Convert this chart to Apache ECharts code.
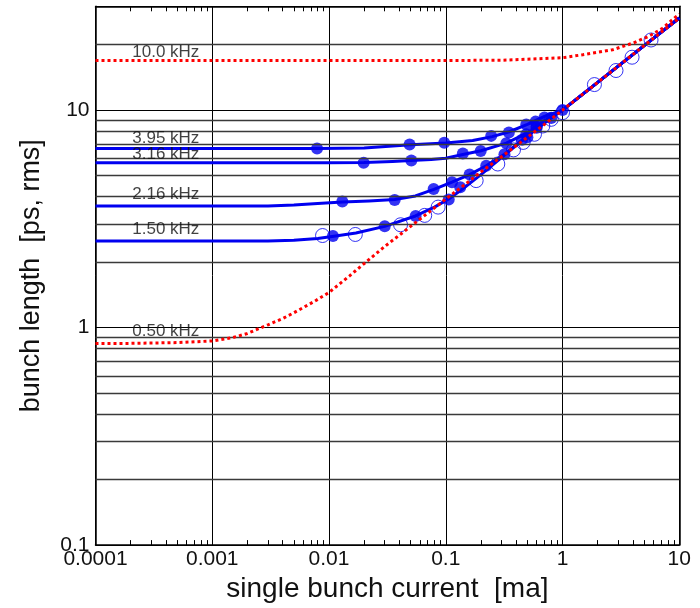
<!DOCTYPE html>
<html>
<head>
<meta charset="utf-8">
<script src="https://cdn.jsdelivr.net/npm/echarts@6/dist/echarts.min.js"></script>
<style>
  html, body { margin: 0; padding: 0; background: #ffffff; }
  #chart { width: 700px; height: 608px; }
</style>
</head>
<body>
<div id="chart"></div>
<script>
// ---- axis ranges / ticks ----
const xMin = 0.0001, xMax = 10;
const yMin = 0.1, yMax = 30;
const xTickLabels = ['0.0001', '0.001', '0.01', '0.1', '1', '10'];
const yTickLabels = ['0.1', '1', '10'];
const yMinorGrid = [0.2, 0.3, 0.4, 0.5, 0.6, 0.7, 0.8, 0.9, 2, 3, 4, 5, 6, 7, 8, 9, 20];

// ---- model curves (red dotted) ----
const curve10kHz = [[0.0001,16.9],[0.001,16.9],[0.01,16.9],[0.1,16.9],[0.3,16.95],[0.6,17.2],[1,17.4],[1.49,17.97],[2.69,18.94],[3.99,20.3],[5.54,21.9],[7.19,23.8],[9.38,26.9],[10,27.6]];
const curve050kHz = [[0.0001,0.845],[0.0002,0.846],[0.0005,0.853],[0.001,0.868],[0.0015,0.9],[0.002,0.94],[0.003,1.03],[0.004,1.1],[0.005,1.17],[0.0075,1.32],[0.01,1.45],[0.015,1.73],[0.02,1.97],[0.03,2.36],[0.05,2.92],[0.07,3.36],[0.1,3.9],[0.15,4.6],[0.2,5.2],[0.3,6.1],[0.5,7.5],[0.7,8.6],[1,10],[2,13.4],[5,19.8],[10,26.5]];

// ---- blue fitted lines ----
const line395 = [[0.0001,6.66],[0.001,6.66],[0.008,6.66],[0.02,6.7],[0.05,6.92],[0.1,7.05],[0.17,7.25],[0.25,7.55],[0.35,7.95],[0.5,8.6],[0.7,9.35],[1,10],[2,13.4],[5,19.8],[10,26.5]];
const line316 = [[0.0001,5.73],[0.001,5.73],[0.01,5.73],[0.02,5.74],[0.035,5.8],[0.05,5.86],[0.075,5.92],[0.1,6.0],[0.14,6.25],[0.2,6.5],[0.33,7.05],[0.5,7.85],[0.7,8.9],[1,10],[2,13.4],[5,19.8],[10,26.5]];
const line216 = [[0.0001,3.62],[0.001,3.62],[0.003,3.62],[0.005,3.66],[0.008,3.72],[0.013,3.78],[0.022,3.82],[0.0365,3.88],[0.055,4.03],[0.079,4.32],[0.113,4.66],[0.16,5.05],[0.222,5.55],[0.318,6.27],[0.5,7.6],[0.75,9.0],[1,10],[2,13.4],[5,19.8],[10,26.5]];
const line150 = [[0.0001,2.50],[0.001,2.50],[0.003,2.50],[0.005,2.52],[0.008,2.57],[0.011,2.63],[0.017,2.72],[0.03,2.92],[0.055,3.26],[0.08,3.58],[0.106,3.9],[0.14,4.35],[0.2,5.05],[0.3,6.05],[0.5,7.6],[0.75,9.0],[1,10],[2,13.4],[5,19.8],[10,26.5]];

// ---- measured points ----
const dots395 = [[0.0079,6.66],[0.049,6.95],[0.097,7.07],[0.245,7.61],[0.347,7.88],[0.489,8.58],[0.587,8.85],[0.7,9.25]];
const dots316 = [[0.0198,5.72],[0.0507,5.87],[0.14,6.32],[0.199,6.48],[0.33,7.04],[0.489,7.74],[0.6,8.4]];
const dots216 = [[0.013,3.80],[0.0365,3.86],[0.0787,4.34],[0.113,4.66],[0.16,5.05],[0.222,5.55],[0.318,6.27],[0.45,7.3],[0.6,8.3]];
const dots150 = [[0.0108,2.64],[0.030,2.92],[0.0552,3.26],[0.106,3.88],[0.133,4.42],[0.5,7.5],[0.8,9.2],[1,10]];
const openCircles = [[0.0088,2.65],[0.0168,2.68],[0.041,2.97],[0.066,3.28],[0.086,3.58],[0.182,4.74],[0.279,5.65],[0.38,6.56],[0.46,7.1],[0.575,7.74],[0.678,8.45],[0.8,9.07],[1.0,9.73],[1.875,13.1],[2.87,15.2],[3.94,17.5],[5.73,21.0]];

// ---- annotations ----
const annotNames = ['10.0 kHz', '3.95 kHz', '3.16 kHz', '2.16 kHz', '1.50 kHz', '0.50 kHz'];
const annotX = 0.0004;
const annotY = [18.5, 7.43, 6.27, 4.12, 2.82, 0.963];

const BLUE = '#0000f0';
const RED = '#ff0000';
const FONT = "'Liberation Sans', Arial, sans-serif";

const chart = echarts.init(document.getElementById('chart'), null, { renderer: 'canvas' });

function blueLine(data) {
  return { type: 'line', data: data, smooth: false, symbol: 'none', xAxisIndex: 0, yAxisIndex: 0,
    lineStyle: { color: BLUE, width: 3, join: 'round' }, z: 2, silent: true };
}
function dots(data) {
  return { type: 'scatter', data: data, symbol: 'circle', symbolSize: 12, xAxisIndex: 0, yAxisIndex: 0,
    itemStyle: { color: BLUE }, z: 3, silent: true };
}
function redCurve(data) {
  return { type: 'line', data: data, smooth: false, symbol: 'none', xAxisIndex: 0, yAxisIndex: 0,
    lineStyle: { color: RED, width: 3, type: 'dotted', cap: 'butt' }, z: 5, silent: true };
}

const option = {
  animation: false,
  backgroundColor: '#ffffff',
  grid: { left: 95.5, right: 20.7, top: 6.3, bottom: 59.7, containLabel: false },
  xAxis: [
    {
      type: 'log', logBase: 10, min: xMin, max: xMax, position: 'bottom',
      name: 'single bunch current  [ma]', nameLocation: 'middle', nameGap: 27,
      nameTextStyle: { fontFamily: FONT, fontSize: 28, color: '#111' },
      axisLine: { show: true, onZero: false, lineStyle: { color: '#000', width: 1.5 } },
      axisTick: { show: true, inside: true, length: 6, lineStyle: { color: '#000' } },
      minorTick: { show: true, splitNumber: 9, length: 5, lineStyle: { color: '#000' } },
      axisLabel: { show: true, margin: 4, fontFamily: FONT, fontSize: 21, color: '#111',
        formatter: function (v) { const i = Math.round(Math.log10(v)) + 4; return xTickLabels[i] !== undefined ? xTickLabels[i] : ''; } },
      splitLine: { show: true, lineStyle: { color: '#000', width: 1 } },
      minorSplitLine: { show: false }
    },
    {
      type: 'log', logBase: 10, min: xMin, max: xMax, position: 'top',
      axisLine: { show: true, onZero: false, lineStyle: { color: '#000', width: 1.5 } },
      axisTick: { show: true, inside: true, length: 6, lineStyle: { color: '#000' } },
      minorTick: { show: true, splitNumber: 9, length: 5, lineStyle: { color: '#000' } },
      axisLabel: { show: false }, splitLine: { show: false }
    }
  ],
  yAxis: [
    {
      type: 'log', logBase: 10, min: yMin, max: yMax, position: 'left',
      name: 'bunch length  [ps, rms]', nameLocation: 'middle', nameGap: 50,
      nameTextStyle: { fontFamily: FONT, fontSize: 27, color: '#111' },
      axisLine: { show: true, onZero: false, lineStyle: { color: '#000', width: 1.5 } },
      axisTick: { show: false },
      minorTick: { show: false, splitNumber: 9 },
      axisLabel: { show: true, margin: 6, fontFamily: FONT, fontSize: 21, color: '#111', showMaxLabel: false,
        formatter: function (v) { const i = Math.round(Math.log10(v)) + 1; return (Math.abs(Math.log10(v) - Math.round(Math.log10(v))) < 1e-6 && yTickLabels[i] !== undefined) ? yTickLabels[i] : ''; } },
      splitLine: { show: true, lineStyle: { color: '#000', width: 1.2 } },
      minorSplitLine: { show: false }
    },
    {
      type: 'log', logBase: 10, min: yMin, max: yMax, position: 'right',
      axisLine: { show: true, onZero: false, lineStyle: { color: '#000', width: 1.5 } },
      axisTick: { show: false },
      axisLabel: { show: false }, splitLine: { show: false }
    }
  ],
  series: [
    {
      type: 'line', data: [], xAxisIndex: 0, yAxisIndex: 0, silent: true, symbol: 'none',
      markLine: {
        silent: true, symbol: 'none', label: { show: false },
        lineStyle: { color: '#3a3a3a', width: 1.3, type: 'solid' },
        data: yMinorGrid.map(function (v) { return { yAxis: v }; })
      },
      z: 1
    },
    blueLine(line395), blueLine(line316), blueLine(line216), blueLine(line150),
    dots(dots395), dots(dots316), dots(dots216), dots(dots150),
    {
      type: 'scatter', data: openCircles, symbol: 'circle', symbolSize: 14, xAxisIndex: 0, yAxisIndex: 0,
      itemStyle: { color: 'rgba(0,0,0,0)', borderColor: BLUE, borderWidth: 1 }, z: 4, silent: true
    },
    redCurve(curve10kHz), redCurve(curve050kHz),
    {
      type: 'scatter', xAxisIndex: 0, yAxisIndex: 0, symbolSize: 0.1, silent: true, z: 6,
      itemStyle: { color: 'rgba(0,0,0,0)' },
      data: annotNames.map(function (n, i) { return { name: n, value: [annotX, annotY[i]] }; }),
      label: { show: true, position: 'inside', formatter: '{b}', fontFamily: FONT, fontSize: 17, color: '#111' }
    }
  ]
};
chart.setOption(option);
</script>
</body>
</html>
